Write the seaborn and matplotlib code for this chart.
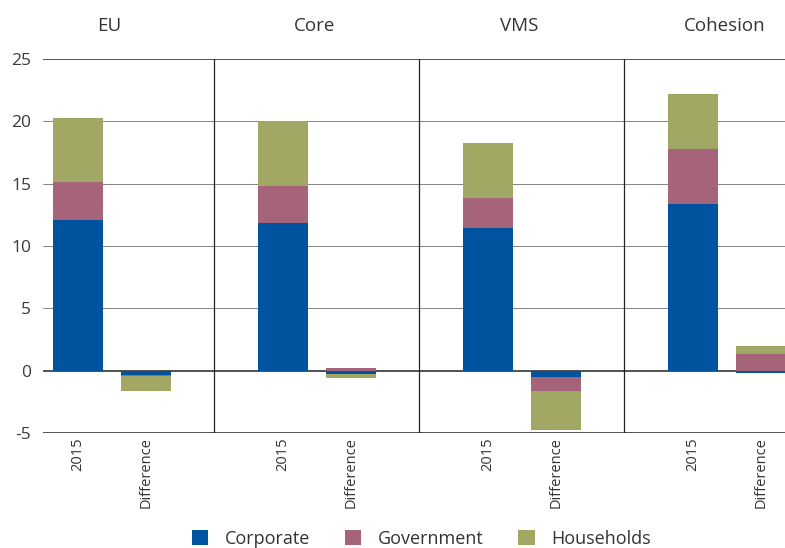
import numpy as np
import pandas as pd
import matplotlib
matplotlib.use("Agg")
import matplotlib.pyplot as plt
from matplotlib.patches import Patch
import seaborn as sns

# Values
groups = ["EU", "Core", "VMS", "Cohesion"]
bar_labels = ["2015", "Difference"] * 4
positions = [0, 1, 3, 4, 6, 7, 9, 10]
corporate = [12.1, -0.35, 11.85, -0.27, 11.45, -0.5, 13.35, -0.2]
government = [3.05, -0.05, 3.0, 0.22, 2.4, -1.13, 4.45, 1.35]
households = [5.15, -1.2, 5.2, -0.3, 4.4, -3.1, 4.4, 0.6]

series = ["Corporate", "Government", "Households"]
colors = {"Corporate": "#00539F", "Government": "#A6647A", "Households": "#A2A763"}

sns.set_style("white")
plt.rcParams["font.family"] = ["Open Sans", "DejaVu Sans"]

# cumulative stacks, positives and negatives kept apart
vals = np.array([corporate, government, households])
pos_cum = np.cumsum(np.clip(vals, 0, None), axis=0)
neg_cum = np.cumsum(np.clip(vals, None, 0), axis=0)

fig = plt.figure(figsize=(7.85, 5.48), dpi=100)
ax = fig.add_axes([43 / 785, 1 - 433 / 548, 1 - 43 / 785, 374 / 548])

# draw outermost layer first so inner layers sit on top
for i in [2, 1, 0]:
    for cum in (pos_cum, neg_cum):
        df = pd.DataFrame({"pos": positions, "value": cum[i]})
        sns.barplot(data=df, x="pos", y="value", native_scale=True,
                    color=colors[series[i]], width=0.73, errorbar=None,
                    saturation=1, linewidth=0, ax=ax)

ax.set_axisbelow(True)
ax.yaxis.grid(True, color="#555555", linewidth=0.5)
ax.xaxis.grid(False)
for s in ax.spines.values():
    s.set_visible(False)
for yv in [25, 0, -5]:
    ax.axhline(yv, color="#222222", linewidth=1.1, zorder=0.5)
for xd in [2, 5, 8]:
    ax.axvline(xd, color="#222222", linewidth=0.9, zorder=1)

ax.set_ylim(-5, 25)
ax.set_yticks(range(-5, 26, 5))
ax.set_yticklabels([str(v) for v in range(-5, 26, 5)])
ax.set_xlim(-0.51, 10.35)
ax.set_xticks(positions)
ax.set_xticklabels(bar_labels, rotation=90)
ax.tick_params(axis="y", length=0, pad=8.5, labelsize=12.5, labelcolor="#3a3a3a")
ax.tick_params(axis="x", length=0, pad=3, labelsize=10.5, labelcolor="#333333")
ax.set_xlabel("")
ax.set_ylabel("")

for g, xc in zip(groups, [0.5, 3.5, 6.5, 9.5]):
    ax.text(xc - 0.04, 1.088, g, transform=ax.get_xaxis_transform(),
            ha="center", va="center", fontsize=13.5, color="#333333")

handles = [Patch(facecolor=colors[s], edgecolor="none", label=s) for s in series]
fig.legend(handles=handles, loc="center", bbox_to_anchor=(0.537, 0.017), ncol=3,
           frameon=False, fontsize=13, handlelength=0.9, handleheight=0.9,
           handletextpad=0.95, columnspacing=1.9, labelcolor="#333333")

fig.savefig("out.png", dpi=100)
